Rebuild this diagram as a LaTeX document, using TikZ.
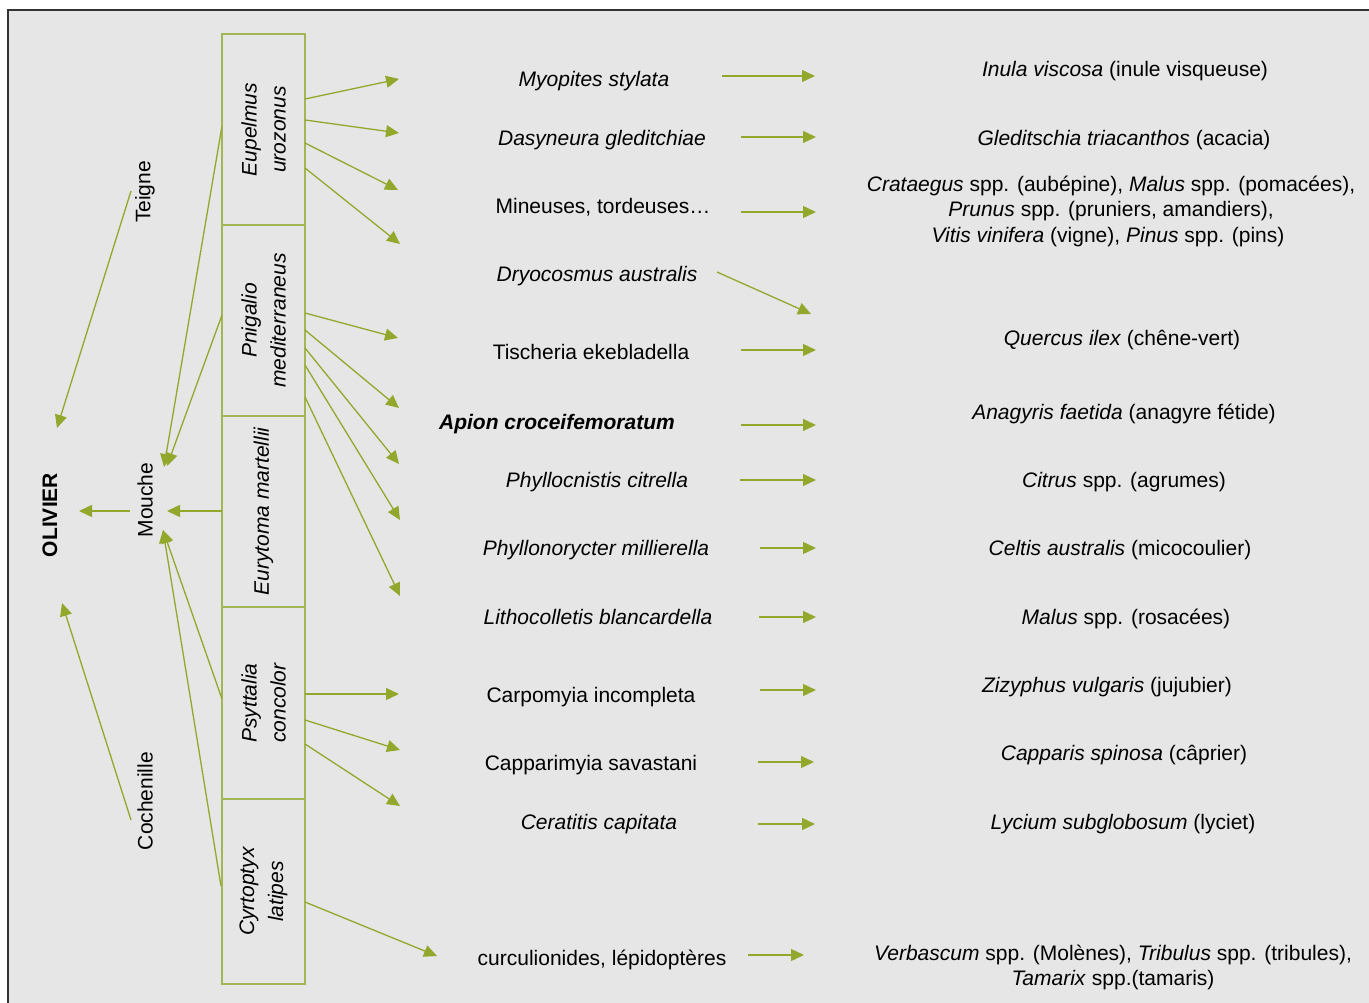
\documentclass[tikz,border=0pt]{standalone}
\usepackage{fontspec}
\setmainfont{Liberation Sans}
\usetikzlibrary{arrows.meta}
\definecolor{bgg}{HTML}{E6E6E6}
\definecolor{lg}{RGB}{146,168,44}
\definecolor{bxg}{RGB}{163,182,85}
\definecolor{frm}{HTML}{333333}
\begin{document}
\begin{tikzpicture}[x=1pt,y=-1pt,
  lbl/.style={font=\fontsize{21}{25}\selectfont, inner sep=0pt, anchor=base, yshift=-1pt},
  vlbl/.style={font=\fontsize{21}{25}\selectfont, inner sep=0pt, rotate=90},
  sbox/.style={draw=bxg, line width=1.6pt, rotate=90, minimum height=83pt, inner sep=0pt, align=center, font=\fontsize{21}{29}\selectfont\itshape},
  link/.style={draw=lg, line width=1.3pt, -{Triangle[length=13pt,width=12pt]}},
]
\useasboundingbox (0,0) rectangle (1369,1003);
\clip (0,0) rectangle (1369,1003);
\fill[white] (0,0) rectangle (1369,1003);
\draw[draw=frm, line width=1.6pt, fill=bgg] (8,10) rectangle (1420,1050);

% boxes
\node[sbox, minimum width=191pt] (b1) at (263.5,129.5) {Eupelmus\\urozonus};
\node[sbox, minimum width=191pt] (b2) at (263.5,320.5) {Pnigalio\\mediterraneus};
\node[sbox, minimum width=191pt] (b3) at (263.5,511.5) {Eurytoma martellii};
\node[sbox, minimum width=192pt] (b4) at (263.5,703) {Psyttalia\\concolor};
\node[sbox, minimum width=185pt] (b5) at (263.5,891.5) {Cyrtoptyx\\latipes};

% left labels
\node[vlbl, font=\fontsize{21}{25}\selectfont\bfseries] (oli) at (50,515) {OLIVIER};
\node[vlbl] (mou) at (145,500) {Mouche};
\node[vlbl] (tei) at (145,192) {Teigne};
\node[vlbl] (coc) at (145,801) {Cochenille};

% middle labels
\node[lbl] (m1) at (594,86) {\textit{Myopites stylata}};
\node[lbl] (m2) at (602,145) {\textit{Dasyneura gleditchiae}};
\node[lbl] (m3) at (603,213) {Mineuses, tordeuses…};
\node[lbl] (m4) at (597,281) {\textit{Dryocosmus australis}};
\node[lbl] (m5) at (591,358) {Tischeria ekebladella};
\node[lbl] (m6) at (557,428) {\textbf{\textit{Apion croceifemoratum}}};
\node[lbl] (m7) at (597,486) {\textit{Phyllocnistis citrella}};
\node[lbl] (m8) at (596,554) {\textit{Phyllonorycter millierella}};
\node[lbl] (m9) at (598,623) {\textit{Lithocolletis blancardella}};
\node[lbl] (m10) at (591,701) {Carpomyia incompleta};
\node[lbl] (m11) at (591,769) {Capparimyia savastani};
\node[lbl] (m12) at (599,828) {\textit{Ceratitis capitata}};
\node[lbl] (m13) at (602,964) {curculionides, lépidoptères};

% right labels
\node[lbl] (r1) at (1125,76) {\textit{Inula viscosa} (inule visqueuse)};
\node[lbl] (r2) at (1124,145) {\textit{Gleditschia triacanthos} (acacia)};
\node[lbl] (r3a) at (1111,191) {\textit{Crataegus} spp. (aubépine), \textit{Malus} spp. (pomacées),};
\node[lbl] (r3b) at (1111,216) {\textit{Prunus} spp. (pruniers, amandiers),};
\node[lbl] (r3c) at (1108,242) {\textit{Vitis vinifera} (vigne), \textit{Pinus} spp. (pins)};
\node[lbl] (r4) at (1122,344) {\textit{Quercus ilex} (chêne-vert)};
\node[lbl] (r5) at (1124,418) {\textit{Anagyris faetida} (anagyre fétide)};
\node[lbl] (r6) at (1124,486) {\textit{Citrus} spp. (agrumes)};
\node[lbl] (r7) at (1120,554) {\textit{Celtis australis} (micocoulier)};
\node[lbl] (r8) at (1126,623) {\textit{Malus} spp. (rosacées)};
\node[lbl] (r9) at (1107,691) {\textit{Zizyphus vulgaris} (jujubier)};
\node[lbl] (r10) at (1124,759) {\textit{Capparis spinosa} (câprier)};
\node[lbl] (r11) at (1123,828) {\textit{Lycium subglobosum} (lyciet)};
\node[lbl] (r12a) at (1113,959) {\textit{Verbascum} spp. (Molènes), \textit{Tribulus} spp. (tribules),};
\node[lbl] (r12b) at (1113,984) {\textit{Tamarix} spp.(tamaris)};

% connectors
\foreach \i/\a/\b/\c/\d in {
  1/131/191/57/428,
  2/131/820/62/603,
  3/130/511/79/511,
  4/222/511/167/511,
  5/222/126/164/467,
  6/222/315/167/466,
  7/222/699/163/530,
  8/221/886/163/530,
  9/305/99/399/79,
  10/305/120/399/133,
  11/305/143/398/190,
  12/305/168/400/244,
  13/305/313/398/338,
  14/305/330/399/408,
  15/305/348/399/464,
  16/305/365/400/520,
  17/305/397/400/596,
  18/305/694/399/694,
  19/305/720/400/750,
  20/305/744/400/806,
  21/305/902/437/956,
  22/722/76/815/76,
  23/741/137/816/137,
  24/741/212/816/212,
  25/717/272/811/314,
  26/741/350/816/350,
  27/741/425/816/425,
  28/740/480/816/480,
  29/760/548/816/548,
  30/759/617/816/617,
  31/760/690/816/690,
  32/758/762/814/762,
  33/758/824/815/824,
  34/748/955/804/955}
{
  \coordinate (s\i) at (\a,\b);
  \coordinate (e\i) at (\c,\d);
  \draw[link] (s\i) -- (e\i);
}
\end{tikzpicture}
\end{document}
